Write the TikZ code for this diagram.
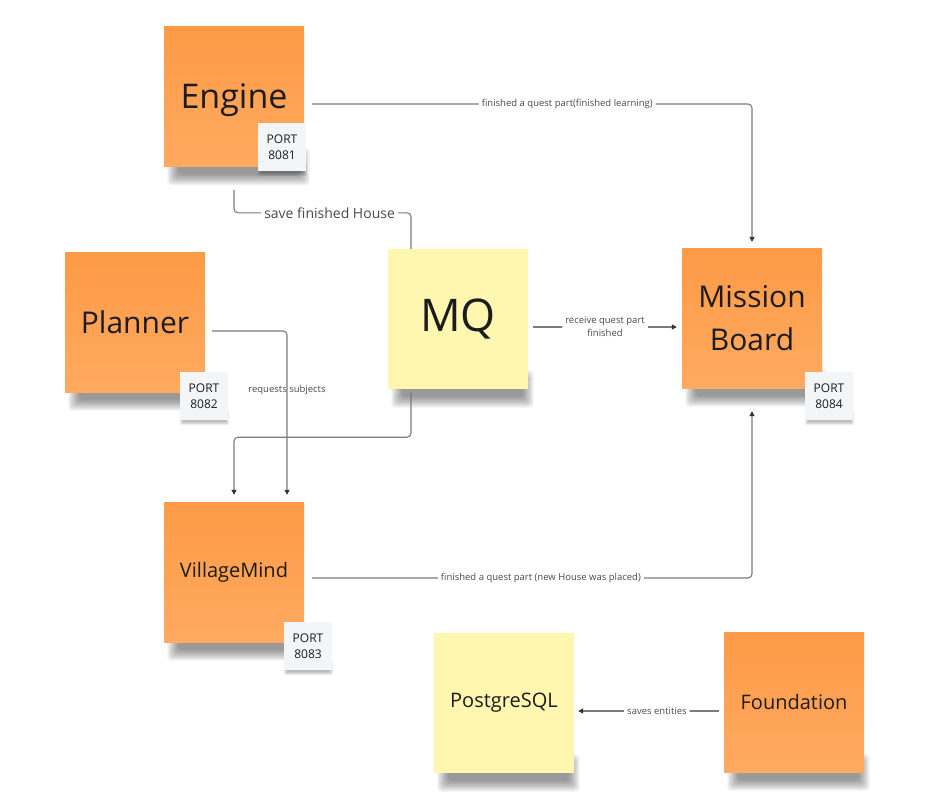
\documentclass[tikz,border=0pt]{standalone}
\usepackage{fontspec}
\setmainfont{Open Sans}
\usetikzlibrary{calc,arrows.meta}
\pgfdeclarelayer{bg}
\pgfdeclarelayer{mid}
\pgfdeclarelayer{fg}
\pgfsetlayers{bg,main,mid,fg}
\definecolor{noteO1}{HTML}{FD9A46}
\definecolor{noteO2}{HTML}{FFAA60}
\definecolor{noteY}{HTML}{FFF6B0}
\definecolor{portbg}{HTML}{F4F5F7}
\definecolor{txt}{HTML}{1C1C1C}
\definecolor{connc}{HTML}{7C7C7C}
\definecolor{arrc}{HTML}{333333}
\definecolor{lbltxt}{HTML}{4A4A4A}
\newcommand\mynoteshadow[1]{%
  \foreach \r in {0,1.5,...,10.5} {
    \fill[black,opacity=0.06,rounded corners=4pt] ($(#1.south west)+(14-\r,-8-\r)$) rectangle ($(#1.south east)+(-5+\r,8+\r)$);
  }}
\newcommand\myportshadow[1]{%
  \foreach \r in {0,1,2,3} {
    \fill[black,opacity=0.07,rounded corners=2pt] ($(#1.south west)+(3-\r,-6-\r)$) rectangle ($(#1.south east)+(-2+\r,2+\r)$);
  }}
\begin{document}
\begin{tikzpicture}[x=1pt,y=-1pt,
 note/.style={minimum width=140pt,minimum height=140pt,inner sep=0pt,align=center,text=txt},
 onote/.style={note,top color=noteO1,bottom color=noteO2},
 ynote/.style={note,fill=noteY},
 port/.style={minimum width=48pt,minimum height=48pt,inner sep=0pt,align=center,fill=portbg,
   font=\fontsize{12}{16.5}\selectfont,text=txt},
 conn/.style={draw=connc,line width=1.1pt,rounded corners=4pt},
 arr/.style={conn,-{Triangle[width=5pt,length=5pt,color=arrc]}},
 lbl/.style={fill=white,inner sep=3pt,text=lbltxt,font=\fontsize{9.5}{13}\selectfont,align=center},
 lblb/.style={inner sep=2pt,text=lbltxt,font=\fontsize{9.5}{13}\selectfont,align=center}
]
\begin{pgfonlayer}{bg}
\fill[white] (0,0) rectangle (951,806);
\end{pgfonlayer}
\useasboundingbox (0,0) rectangle (951,806);

% notes
\node[onote,font=\fontsize{34}{40}\selectfont,text depth=0pt] (engine) at (234,96.5) {Engine};
\node[onote,font=\fontsize{30}{36}\selectfont] (planner) at (135,322) {Planner};
\node[ynote,font=\fontsize{45}{50}\selectfont] (mq) at (458,319) {MQ};
\node[onote,font=\fontsize{30}{43}\selectfont] (mission) at (752,318) {Mission\\Board};
\node[onote,font=\fontsize{20}{24}\selectfont] (vm) at (234,572) {VillageMind};
\node[ynote,font=\fontsize{20}{24}\selectfont] (pg) at (504,703) {PostgreSQL};
\node[onote,font=\fontsize{20}{24}\selectfont] (found) at (794,702) {Foundation};

% ports
\begin{pgfonlayer}{fg}
\node[port] (p1) at (282,147) {PORT\\8081};
\node[port] (p2) at (204,396) {PORT\\8082};
\node[port] (p3) at (308,646) {PORT\\8083};
\node[port] (p4) at (829,396) {PORT\\8084};
\end{pgfonlayer}

% shadows
\begin{pgfonlayer}{bg}
\mynoteshadow{engine}
\mynoteshadow{planner}
\mynoteshadow{mq}
\mynoteshadow{mission}
\mynoteshadow{vm}
\mynoteshadow{pg}
\mynoteshadow{found}
\end{pgfonlayer}
\begin{pgfonlayer}{mid}
\myportshadow{p1}
\myportshadow{p2}
\myportshadow{p3}
\myportshadow{p4}
\end{pgfonlayer}

% connectors
\draw[arr] ($(engine.east)+(8,7.5)$) -| node[lbl,pos=0.29]{finished a quest part(finished learning)} ($(mission.north)+(0,-6)$);
\draw[conn] ($(engine.south)+(0,23.5)$) |- node[lbl,pos=0.77,font=\fontsize{14}{16}\selectfont]{save finished House} ($(mq.north)+(-47,-36)$) -- ($(mq.north)+(-47,0)$);
\draw[arr] ($(planner.east)+(7,9)$) -| node[lblb,pos=0.68]{requests subjects} ($(vm.north)+(53,-7)$);
\draw[arr] ($(mq.south)+(-47,3)$) -- ++(0,45) -| ($(vm.north)+(0,-7)$);
\draw[arr] ($(vm.east)+(8,6)$) -| node[lbl,pos=0.26]{finished a quest part (new House was placed)} ($(mission.south)+(0,23)$);
\draw[arr] ($(mq.east)+(5,8)$) -- node[lbl]{receive quest part\\finished} ($(mission.west)+(-5,9)$);
\draw[arr] ($(found.west)+(-5,9)$) -- node[lbl,pos=0.44]{saves entities} ($(pg.east)+(4,8)$);
\end{tikzpicture}
\end{document}
